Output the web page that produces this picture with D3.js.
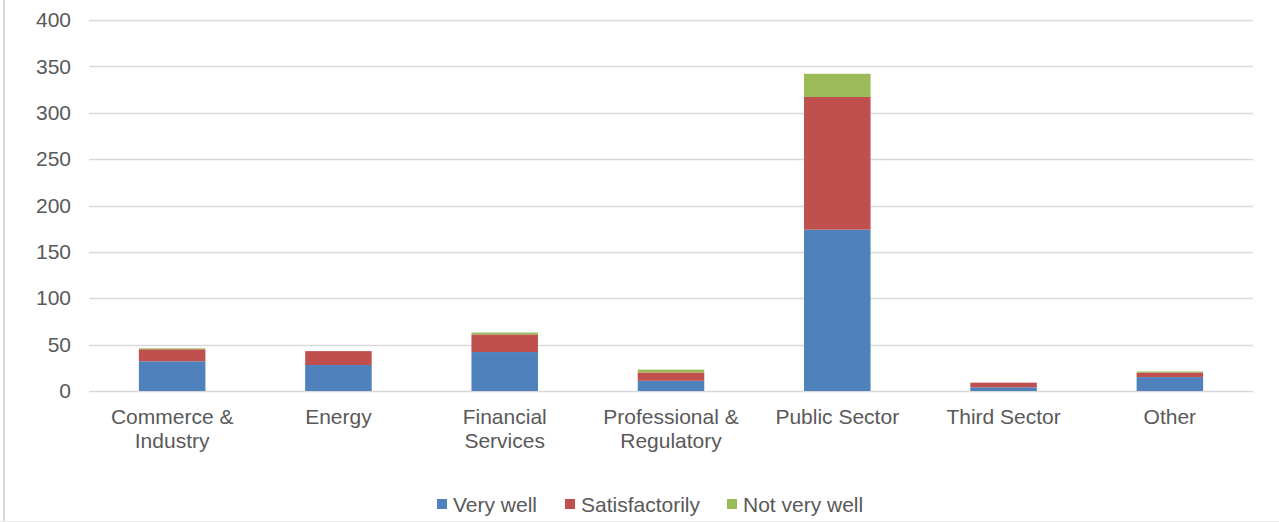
<!DOCTYPE html>
<html>
<head>
<meta charset="utf-8">
<script src="https://cdn.jsdelivr.net/npm/d3@7"></script>
<style>
  html, body { margin: 0; padding: 0; background: #fff; }
  svg { display: block; }
  text { font-family: "Liberation Sans", Arial, sans-serif; fill: #595959; }
</style>
</head>
<body>
<svg id="chart" width="1279" height="522"></svg>
<script>
// Sector names (multi-line labels split on "\n")
const categories = ["Commerce &\nIndustry", "Energy", "Financial\nServices", "Professional &\nRegulatory", "Public Sector", "Third Sector", "Other"];
const seriesNames = ["Very well", "Satisfactorily", "Not very well"];
const veryWell = [32, 28, 42, 11, 174, 4, 15];
const satisfactorily = [13, 15, 19, 9, 143, 5, 5];
const notVeryWell = [1, 0, 2, 3, 25, 0, 1];
const yTicks = [0, 50, 100, 150, 200, 250, 300, 350, 400];
const colors = ["#4f81bd", "#c0504d", "#9bbb59"];

const svg = d3.select("#chart");
const W = 1279, H = 522;
const margin = { left: 89, right: 26, top: 20, bottom: 131 };
const fontSize = "21px";

// outer frame edges
svg.append("line").attr("x1", 4).attr("x2", 4).attr("y1", 0).attr("y2", H)
  .attr("stroke", "#d9d9d9").attr("stroke-width", 2);
svg.append("line").attr("x1", 0).attr("x2", W).attr("y1", 521.5).attr("y2", 521.5)
  .attr("stroke", "#ececec").attr("stroke-width", 1);

const rows = categories.map((c, i) => ({
  cat: c,
  "Very well": veryWell[i],
  "Satisfactorily": satisfactorily[i],
  "Not very well": notVeryWell[i]
}));

const x = d3.scaleBand().domain(categories)
  .range([margin.left, W - margin.right]).paddingInner(0.6).paddingOuter(0.3);
const y = d3.scaleLinear().domain([0, 400]).range([H - margin.bottom, margin.top]);

// horizontal gridlines
svg.append("g").selectAll("line").data(yTicks).join("line")
  .attr("x1", margin.left).attr("x2", W - margin.right)
  .attr("y1", d => Math.round(y(d)) + 0.5).attr("y2", d => Math.round(y(d)) + 0.5)
  .attr("stroke", "#d9d9d9").attr("stroke-width", 1.3);

// y tick labels
const yAxis = d3.axisLeft(y).tickValues(yTicks).tickSize(0).tickPadding(0);
const yg = svg.append("g").attr("transform", `translate(${margin.left - 18},0)`).call(yAxis);
yg.select(".domain").remove();
yg.selectAll("text").style("font-size", fontSize).attr("fill", "#595959")
  .style("font-family", '"Liberation Sans", Arial, sans-serif');

// stacked bars
const stack = d3.stack().keys(seriesNames);
const layers = stack(rows);
svg.append("g").selectAll("g").data(layers).join("g")
  .attr("fill", (d, i) => colors[i])
  .selectAll("rect").data(d => d).join("rect")
  .attr("x", d => x(d.data.cat))
  .attr("width", x.bandwidth())
  .attr("y", d => y(d[1]))
  .attr("height", d => Math.max(0, y(d[0]) - y(d[1])));

// x category labels
const xl = svg.append("g").selectAll("text").data(categories).join("text")
  .attr("text-anchor", "middle")
  .attr("x", d => x(d) + x.bandwidth() / 2)
  .attr("y", 424)
  .style("font-size", fontSize);
xl.each(function(d) {
  const lines = d.split("\n");
  d3.select(this).selectAll("tspan").data(lines).join("tspan")
    .attr("x", x(d) + x.bandwidth() / 2)
    .attr("dy", (l, i) => i === 0 ? 0 : 24)
    .text(l => l);
});

// legend
const legendItems = [
  { name: seriesNames[0], color: colors[0], x: 437 },
  { name: seriesNames[1], color: colors[1], x: 565 },
  { name: seriesNames[2], color: colors[2], x: 727 }
];
const lg = svg.append("g").selectAll("g").data(legendItems).join("g")
  .attr("transform", d => `translate(${d.x},499)`);
lg.append("rect").attr("width", 10).attr("height", 10).attr("fill", d => d.color);
lg.append("text").attr("x", 16).attr("y", 12.5).style("font-size", fontSize).text(d => d.name);
</script>
</body>
</html>
